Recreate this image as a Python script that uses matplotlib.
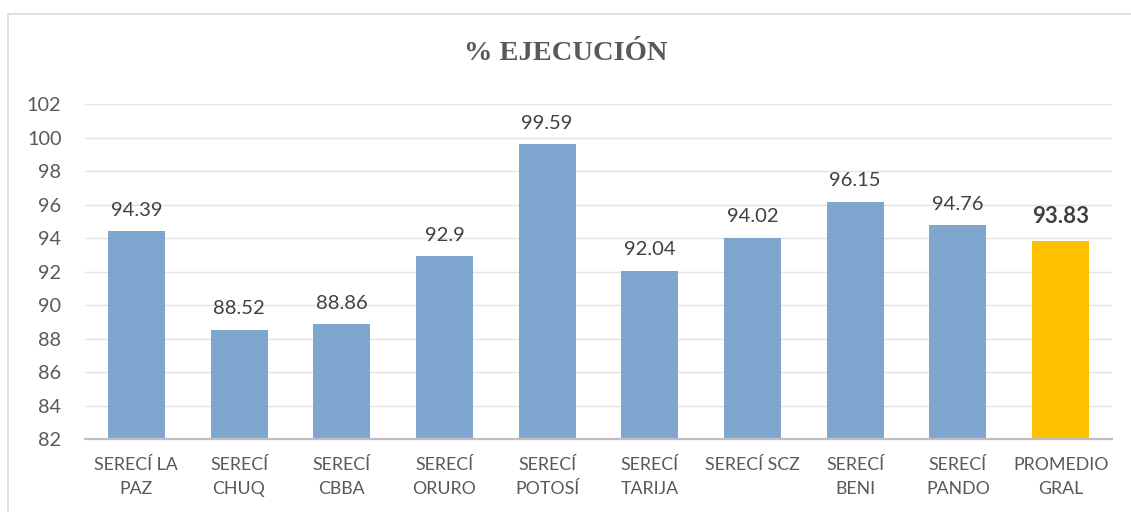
import matplotlib
matplotlib.use("Agg")
import matplotlib.pyplot as plt
from matplotlib.patches import Rectangle

categories = ["SERECÍ LA\nPAZ", "SERECÍ\nCHUQ", "SERECÍ\nCBBA", "SERECÍ\nORURO", "SERECÍ\nPOTOSÍ",
              "SERECÍ\nTARIJA", "SERECÍ SCZ", "SERECÍ\nBENI", "SERECÍ\nPANDO", "PROMEDIO\nGRAL"]
values = [94.39, 88.52, 88.86, 92.9, 99.59, 92.04, 94.02, 96.15, 94.76, 93.83]
labels = ["94.39", "88.52", "88.86", "92.9", "99.59", "92.04", "94.02", "96.15", "94.76", "93.83"]
yticks = [82, 84, 86, 88, 90, 92, 94, 96, 98, 100, 102]

W, H = 1131, 512
fig = plt.figure(figsize=(W / 100, H / 100), dpi=100)
fig.patch.set_facecolor("white")

# outer chart frame
fig.patches.append(Rectangle((7.5 / W, -0.1), 1.2, (H - 13.5) / H + 0.1, transform=fig.transFigure,
                             fill=False, edgecolor="#d9d9d9", linewidth=1.2))

ax = fig.add_axes([85 / W, (H - 439) / H, (1112 - 85) / W, (439 - 104) / H])
text_color = "#595959"
font = "Lato"

colors = ["#7fa6cf"] * 9 + ["#ffc000"]
x = list(range(len(categories)))
ax.bar(x, [v - 82 for v in values], bottom=82, width=0.555, color=colors, zorder=3)

ax.set_ylim(82, 102)
ax.set_xlim(-0.5, len(categories) - 0.5)
ax.set_yticks(yticks)
ax.set_yticklabels([str(t) for t in yticks], fontsize=14.3, color=text_color, family=font)
ax.set_xticks(x)
ax.set_xticklabels(categories, fontsize=12.8, color=text_color, family=font, linespacing=1.6)
ax.tick_params(axis="both", length=0)
ax.tick_params(axis="y", pad=17)
ax.tick_params(axis="x", pad=13)

ax.grid(axis="y", color="#e3e3e3", linewidth=1, zorder=0)
for s in ["top", "right", "left"]:
    ax.spines[s].set_visible(False)
ax.spines["bottom"].set_color("#bfbfbf")
ax.spines["bottom"].set_linewidth(1.6)
ax.spines["bottom"].set_zorder(4)

for i, (v, lab) in enumerate(zip(values, labels)):
    if i == len(values) - 1:
        ax.annotate(lab, (i, v), xytext=(0, 10), textcoords="offset points", ha="center", va="bottom",
                    fontsize=16, fontweight="bold", color="#404040", family=font)
    else:
        ax.annotate(lab, (i, v), xytext=(0, 9), textcoords="offset points", ha="center", va="bottom",
                    fontsize=14.5, color="#404040", family=font)

fig.text(566 / W, 1 - 54 / H, "% EJECUCIÓN", ha="center", va="center", fontsize=20.5,
         fontweight="bold", color=text_color, family="Liberation Serif")

fig.savefig("out.png", dpi=100, facecolor="white")
